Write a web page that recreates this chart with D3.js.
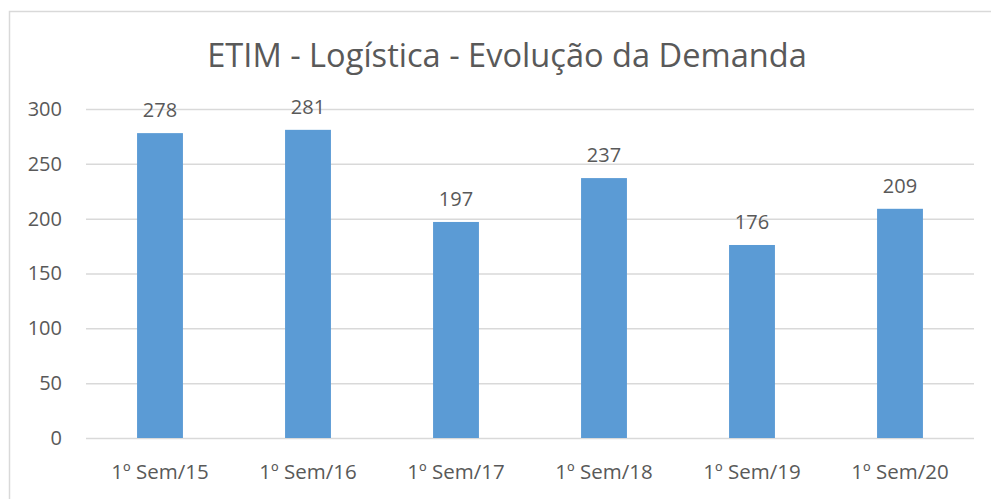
<!DOCTYPE html>
<html>
<head>
<meta charset="utf-8">
<script src="https://cdn.jsdelivr.net/npm/d3@7"></script>
<style>
  body { margin: 0; background: #fff; }
  .vis { width: 991px; height: 499px; }
  text { font-family: "Open Sans", sans-serif; fill: #595959; }
</style>
</head>
<body>
<div class="vis"></div>
<script>
(function() {
  'use strict';

  var categories = ['1º Sem/15', '1º Sem/16', '1º Sem/17', '1º Sem/18', '1º Sem/19', '1º Sem/20'];
  var values = [278, 281, 197, 237, 176, 209];
  var yTicks = [0, 50, 100, 150, 200, 250, 300];
  var title = 'ETIM - Logística - Evolução da Demanda';

  var elWidth = 991,
    elHeight = 499,
    margin = {top: 109, right: 17, bottom: 61, left: 86},
    width = elWidth - margin.left - margin.right,
    height = elHeight - margin.top - margin.bottom;

  var root = d3.select('.vis').append('svg')
      .attr('width', elWidth)
      .attr('height', elHeight);

  // chart frame (only top and left edges are visible in the crop)
  root.append('path')
    .attr('d', 'M9.5,' + elHeight + 'V11.5H' + elWidth)
    .attr('fill', 'none')
    .attr('stroke', '#d9d9d9')
    .attr('stroke-width', 1.5);

  root.append('text')
    .attr('x', 507)
    .attr('y', 67)
    .attr('text-anchor', 'middle')
    .style('font-size', '32.6px')
    .text(title);

  var svg = root.append('g')
      .attr('transform', 'translate(' + margin.left + ',' + margin.top + ')');

  var x = d3.scaleBand()
    .domain(categories)
    .range([0, width])
    .paddingInner(0.69)
    .paddingOuter(0.345);

  var y = d3.scaleLinear()
    .domain([0, 300])
    .range([height, 0]);

  var yAxis = d3.axisLeft(y)
    .tickValues(yTicks)
    .tickSize(-width)
    .tickPadding(24);

  svg.append('g')
    .call(yAxis)
    .call(function(g) {
      g.select('.domain').remove();
      g.selectAll('.tick line').attr('stroke', '#d9d9d9').attr('stroke-width', 1.5);
      g.selectAll('.tick text')
        .style('font-size', '20px')
        .attr('fill', '#595959');
    });

  var xAxis = d3.axisBottom(x)
    .tickSize(0)
    .tickPadding(26);

  svg.append('g')
    .attr('transform', 'translate(0,' + height + ')')
    .call(xAxis)
    .call(function(g) {
      g.select('.domain').remove();
      g.selectAll('.tick text')
        .style('font-size', '20.5px')
        .attr('fill', '#595959');
    });

  var data = categories.map(function(c, i) {
    return {cat: c, value: values[i]};
  });

  svg.selectAll('.bar')
    .data(data)
    .enter()
    .append('rect')
      .attr('class', 'bar')
      .attr('x', function(d) { return x(d.cat); })
      .attr('width', x.bandwidth())
      .attr('y', function(d) { return y(d.value); })
      .attr('height', function(d) { return height - y(d.value); })
      .attr('fill', '#5b9bd5');

  svg.selectAll('.label')
    .data(data)
    .enter()
    .append('text')
      .attr('class', 'label')
      .attr('x', function(d) { return x(d.cat) + x.bandwidth() / 2; })
      .attr('y', function(d) { return y(d.value) - 16; })
      .attr('text-anchor', 'middle')
      .style('font-size', '20px')
      .text(function(d) { return d.value; });
}());
</script>
</body>
</html>
